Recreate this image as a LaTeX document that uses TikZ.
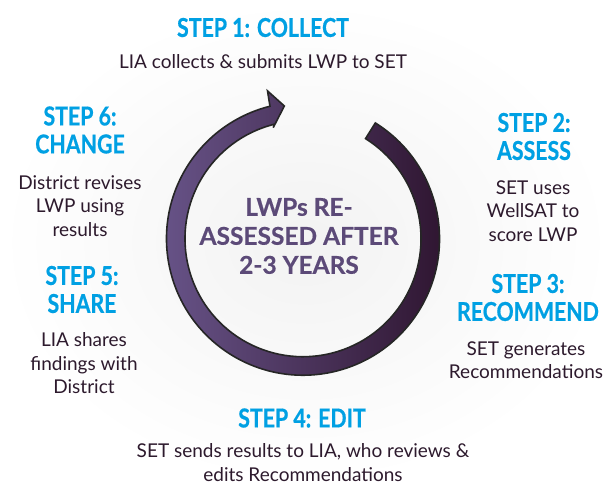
\documentclass[tikz,border=0pt]{standalone}
\usepackage{fontspec}
\setmainfont{Lato}
\newfontfamily\headfont{Lato}[FakeStretch=0.82,FakeBold=0.6]
\newfontfamily\midfont{Lato}[FakeBold=0.5]
\usetikzlibrary{positioning}

\definecolor{stepblue}{RGB}{0,160,227}
\definecolor{bodyink}{RGB}{45,26,45}
\definecolor{ringlight}{RGB}{106,86,140}
\definecolor{ringdark}{RGB}{44,18,44}
\definecolor{midtext}{RGB}{92,74,120}

\def\ringout{136.5}
\def\ringin{118}

\begin{document}
\begin{tikzpicture}[x=1pt,y=-1pt]
    \tikzstyle{steptitle}=[text=stepblue,font=\headfont\bfseries\fontsize{26}{28}\selectfont,align=center,inner sep=0pt]
    \tikzstyle{stepbody}=[text=bodyink,font=\fontsize{19}{23.5}\selectfont,align=center,inner sep=0pt]
    \tikzstyle{centre}=[text=midtext,font=\midfont\bfseries\fontsize{24.5}{29}\selectfont,align=center,inner sep=0pt]

    % Background glow
    \fill[inner color=black!5,outer color=white] (0,0) rectangle (611,485);

    % Draw the ring arrow
    \begin{scope}[shift={(303,238.7)},y=1pt]
        \draw[line width=1.6pt,draw=black!85,left color=ringlight,right color=ringdark]
            (58:\ringout) arc[start angle=58,end angle=-256,radius=\ringout]
            -- (103.5:152) -- (98:134) -- (105:115) -- (104:\ringin)
            arc[start angle=-256,end angle=58,radius=\ringin] -- cycle;
    \end{scope}

    % Centre text
    \node[centre] (mid) at (299,236) {LWPs RE-\\ASSESSED AFTER\\2-3 YEARS};

    % Steps
    \node[steptitle] (s1) at (263,27.5) {STEP 1: COLLECT};
    \node[stepbody] (d1) at (263,62) {LIA collects \& submits LWP to SET};

    \node[steptitle] (s2) at (534,136.5) {STEP 2:\\ASSESS};
    \node[stepbody] (d2) at (533,211) {SET uses\\WellSAT to\\score LWP};

    \node[steptitle] (s3) at (528,297.5) {STEP 3:\\RECOMMEND};
    \node[stepbody] (d3) at (526,360) {SET generates\\Recommendations};

    \node[steptitle] (s4) at (302,418) {STEP 4: EDIT};
    \node[stepbody] (d4) at (303,462.5) {SET sends results to LIA, who reviews \&\\edits Recommendations};

    \node[steptitle] (s5) at (82,289.5) {STEP 5:\\SHARE};
    \node[stepbody] (d5) at (84,363.5) {LIA shares\\findings with\\District};

    \node[steptitle] (s6) at (80,130) {STEP 6:\\CHANGE};
    \node[stepbody] (d6) at (80,206) {District revises\\LWP using\\results};
\end{tikzpicture}
\end{document}
